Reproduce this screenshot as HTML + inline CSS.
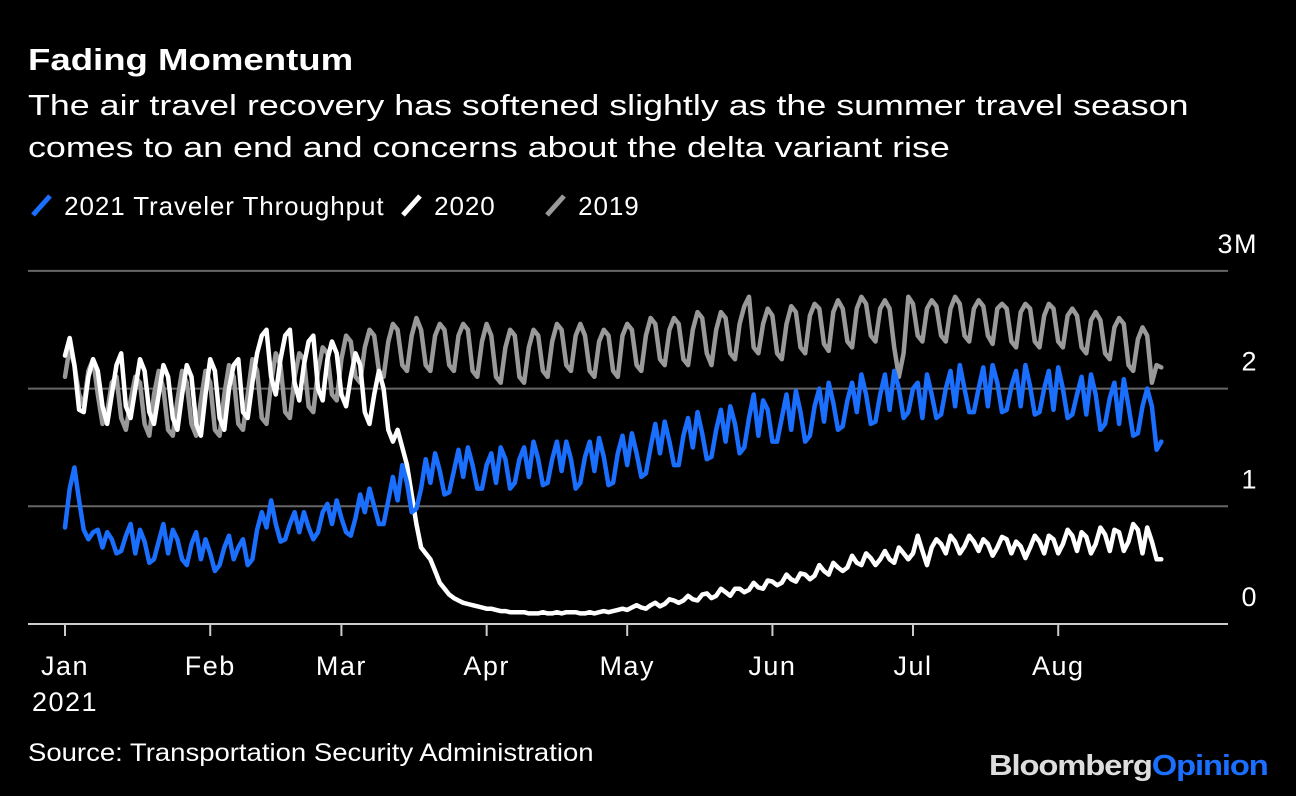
<!DOCTYPE html>
<html><head><meta charset="utf-8">
<style>
html,body{margin:0;padding:0;background:#000;}
body{width:1296px;height:796px;overflow:hidden;position:relative;font-family:"Liberation Sans",Arial,sans-serif;color:#fff;}
.t{position:absolute;white-space:nowrap;transform-origin:0 0;}
</style></head>
<body>
<div class="t" style="left:28px;top:42px;font-size:31px;font-weight:bold;transform:scaleX(1.18);">Fading Momentum</div>
<div class="t" style="left:28px;top:85px;font-size:29px;line-height:42px;transform:scaleX(1.235);">The air travel recovery has softened slightly as the summer travel season<br>comes to an end and concerns about the delta variant rise</div>
<div style="position:absolute;left:28px;top:191px;font-size:26px;height:30px;">
  <span style="position:absolute;left:0;white-space:nowrap;letter-spacing:0.9px;"><svg width="28" height="26" style="vertical-align:-3px"><line x1="5" y1="23" x2="22" y2="4" stroke="#1a6fff" stroke-width="5"/></svg> 2021 Traveler Throughput</span>
  <span style="position:absolute;left:370px;white-space:nowrap;letter-spacing:0.9px;"><svg width="28" height="26" style="vertical-align:-3px"><line x1="5" y1="23" x2="22" y2="4" stroke="#fff" stroke-width="5"/></svg> 2020</span>
  <span style="position:absolute;left:514px;white-space:nowrap;letter-spacing:0.9px;"><svg width="28" height="26" style="vertical-align:-3px"><line x1="5" y1="23" x2="22" y2="4" stroke="#999" stroke-width="5"/></svg> 2019</span>
</div>
<svg id="chart" width="1296" height="796" style="position:absolute;left:0;top:0;"></svg>
<div class="t" style="left:28px;top:739px;font-size:25px;transform:scaleX(1.1);">Source: Transportation Security Administration</div>
<div class="t" style="left:989px;top:750px;font-size:29px;font-weight:bold;letter-spacing:-1px;transform:scaleX(1.13);"><span style="color:#ddd">Bloomberg</span><span style="color:#1a6fff">Opinion</span></div>
<script>
const monthLabels=["Jan","Feb","Mar","Apr","May","Jun","Jul","Aug"];
const monthDays=[0,31,59,90,120,151,181,212];
const yTicks=[0,1,2,3];
const yTickLabels=["0","1","2","3M"];
const s2021=[0.82,1.15,1.33,1.05,0.8,0.72,0.78,
0.8,0.65,0.78,0.72,0.6,0.62,0.75,
0.85,0.6,0.8,0.7,0.52,0.55,0.7,
0.85,0.6,0.8,0.72,0.55,0.5,0.68,
0.78,0.55,0.72,0.6,0.45,0.5,0.65,
0.75,0.55,0.65,0.72,0.5,0.55,0.8,
0.95,0.82,1.05,0.85,0.7,0.72,0.85,
0.95,0.78,0.95,0.82,0.72,0.78,0.95,
1.02,0.85,1.05,0.9,0.78,0.75,0.9,
1.1,0.95,1.15,1.0,0.85,0.85,1.05,
1.25,1.05,1.35,1.2,0.95,0.98,1.15,
1.4,1.2,1.45,1.3,1.1,1.12,1.3,
1.48,1.25,1.5,1.35,1.15,1.15,1.35,
1.45,1.2,1.5,1.4,1.15,1.2,1.4,
1.5,1.25,1.55,1.4,1.18,1.2,1.4,
1.55,1.3,1.55,1.4,1.15,1.2,1.42,
1.55,1.3,1.58,1.42,1.18,1.2,1.45,
1.6,1.35,1.62,1.45,1.25,1.28,1.5,
1.7,1.45,1.72,1.55,1.35,1.35,1.6,
1.75,1.5,1.8,1.62,1.4,1.42,1.65,
1.82,1.55,1.85,1.7,1.45,1.5,1.75,
1.95,1.6,1.9,1.82,1.55,1.55,1.75,
1.95,1.65,1.98,1.8,1.55,1.6,1.85,
2.0,1.72,2.05,1.88,1.65,1.68,1.9,
2.05,1.8,2.12,1.95,1.7,1.72,1.95,
2.12,1.82,2.15,2.0,1.75,1.8,2.0,
2.05,1.75,2.12,1.95,1.75,1.78,2.0,
2.15,1.85,2.2,2.0,1.8,1.8,2.0,
2.18,1.85,2.2,2.05,1.8,1.82,2.02,
2.15,1.85,2.2,2.02,1.78,1.8,2.0,
2.15,1.82,2.18,2.0,1.75,1.78,1.95,
2.1,1.78,2.12,1.95,1.65,1.7,1.92,
2.05,1.7,2.08,1.85,1.6,1.62,1.85,
2.0,1.85,1.48,1.55];
const s2020=[2.28,2.43,2.2,1.82,1.8,2.1,2.25,
2.15,1.85,1.7,1.95,2.2,2.3,1.85,
1.75,2.0,2.25,2.15,1.8,1.7,1.95,
2.2,2.1,1.75,1.65,1.95,2.2,2.1,
1.7,1.6,1.95,2.25,2.15,1.75,1.65,
2.0,2.2,2.25,1.8,1.75,2.05,2.3,
2.45,2.5,2.1,1.95,2.25,2.45,2.5,
2.05,1.9,2.2,2.4,2.45,2.0,1.9,
2.25,2.4,2.3,1.95,1.85,2.1,2.3,
2.2,1.8,1.7,1.95,2.15,2.0,1.65,
1.55,1.65,1.5,1.35,1.1,0.85,0.65,
0.6,0.55,0.45,0.35,0.3,0.25,0.22,
0.2,0.18,0.17,0.16,0.15,0.14,0.13,
0.13,0.12,0.11,0.11,0.1,0.1,0.1,
0.1,0.09,0.09,0.09,0.1,0.09,0.09,
0.1,0.09,0.1,0.1,0.1,0.09,0.09,
0.1,0.09,0.1,0.11,0.1,0.11,0.12,
0.13,0.12,0.14,0.16,0.14,0.13,0.16,
0.18,0.15,0.17,0.21,0.2,0.18,0.2,
0.24,0.21,0.2,0.25,0.26,0.22,0.24,
0.3,0.27,0.24,0.3,0.3,0.27,0.29,
0.35,0.31,0.3,0.37,0.36,0.33,0.35,
0.42,0.38,0.36,0.43,0.42,0.38,0.41,
0.5,0.45,0.42,0.52,0.48,0.45,0.48,
0.58,0.52,0.5,0.6,0.56,0.5,0.55,
0.62,0.55,0.52,0.65,0.6,0.55,0.6,
0.75,0.62,0.5,0.65,0.72,0.68,0.6,
0.75,0.7,0.6,0.66,0.75,0.7,0.62,
0.72,0.68,0.58,0.65,0.74,0.72,0.6,
0.7,0.66,0.56,0.65,0.75,0.7,0.6,
0.75,0.72,0.6,0.68,0.8,0.75,0.62,
0.78,0.74,0.6,0.68,0.82,0.76,0.62,
0.8,0.78,0.62,0.7,0.85,0.8,0.6,
0.82,0.7,0.55,0.55];
const s2019=[2.1,2.35,2.2,1.95,1.85,2.15,2.25,
1.95,1.7,1.8,2.05,2.1,1.75,1.65,
1.9,2.1,2.05,1.7,1.6,1.95,2.15,
2.0,1.65,1.6,1.9,2.15,2.05,1.7,
1.6,1.9,2.15,2.05,1.65,1.6,1.95,
2.2,2.1,1.7,1.65,1.95,2.25,2.15,
1.75,1.7,2.05,2.3,2.2,1.8,1.75,
2.1,2.3,2.25,1.85,1.8,2.15,2.35,
2.3,1.95,1.9,2.25,2.45,2.4,2.1,
2.05,2.35,2.5,2.45,2.15,2.1,2.4,
2.55,2.5,2.2,2.15,2.45,2.6,2.5,
2.2,2.15,2.45,2.55,2.5,2.2,2.15,
2.45,2.55,2.5,2.15,2.1,2.4,2.55,
2.45,2.1,2.05,2.35,2.5,2.45,2.1,
2.05,2.35,2.5,2.45,2.15,2.1,2.4,
2.55,2.5,2.2,2.15,2.45,2.55,2.45,
2.15,2.1,2.4,2.5,2.45,2.15,2.1,
2.45,2.55,2.5,2.2,2.15,2.45,2.6,
2.55,2.25,2.2,2.5,2.6,2.55,2.25,
2.2,2.5,2.65,2.6,2.3,2.2,2.5,
2.65,2.6,2.3,2.25,2.55,2.7,2.78,
2.35,2.3,2.55,2.68,2.62,2.3,2.25,
2.55,2.7,2.65,2.35,2.3,2.62,2.72,
2.68,2.38,2.32,2.65,2.75,2.68,2.4,
2.35,2.68,2.78,2.72,2.45,2.4,2.68,
2.75,2.68,2.35,2.1,2.3,2.78,2.72,
2.45,2.4,2.68,2.75,2.7,2.45,2.4,
2.68,2.78,2.72,2.45,2.4,2.68,2.75,
2.7,2.45,2.38,2.68,2.72,2.68,2.4,
2.35,2.65,2.72,2.68,2.4,2.35,2.62,
2.72,2.68,2.4,2.35,2.62,2.68,2.62,
2.35,2.3,2.58,2.65,2.58,2.3,2.25,
2.52,2.6,2.55,2.2,2.15,2.42,2.52,
2.45,2.05,2.2,2.18];

const NS="http://www.w3.org/2000/svg";
const svg=document.getElementById('chart');
const xScale=d=>65+d*4.685;
const yScale=v=>624-v*117.7;
const FONT='Liberation Sans, Arial, sans-serif';
function mk(tag,attrs){const e=document.createElementNS(NS,tag);for(const k in attrs)e.setAttribute(k,attrs[k]);svg.appendChild(e);return e;}
yTicks.forEach((t,i)=>{
  if(t>0){
    const g=mk('line',{x1:28,x2:1228,y1:yScale(t),y2:yScale(t),stroke:'#666','stroke-width':2});
    
    
  }
  const tx=mk('text',{x:1258,y:yScale(t)-18,'text-anchor':'end',fill:'#fff','font-size':27,'letter-spacing':1.5,'font-family':FONT});
  tx.textContent=yTickLabels[i];
  
  
});
const ax=mk('line',{x1:28,x2:1228,y1:yScale(0),y2:yScale(0),stroke:'#ccc','stroke-width':2});


monthDays.forEach((d,i)=>{
  const tk=mk('line',{x1:xScale(d),x2:xScale(d),y1:624,y2:636,stroke:'#ccc','stroke-width':2});
  
  
  const tx=mk('text',{x:xScale(d),y:675,'text-anchor':'middle',fill:'#fff','font-size':27,'letter-spacing':1.5,'font-family':FONT});
  tx.textContent=monthLabels[i];
  
  
});
const yr=mk('text',{x:xScale(0),y:711,'text-anchor':'middle',fill:'#fff','font-size':27,'letter-spacing':1.5,'font-family':FONT});
yr.textContent='2021';


function line(data,color,name){
  const p=mk('polyline',{points:data.map((v,i)=>xScale(i).toFixed(1)+','+yScale(v).toFixed(1)).join(' '),fill:'none',stroke:color,'stroke-width':4.5,'stroke-linejoin':'round','stroke-linecap':'round'});
  
  
}
line(s2019,'#999','line-2019');
line(s2020,'#fff','line-2020');
line(s2021,'#1a6fff','line-2021');
</script>
</body></html>
